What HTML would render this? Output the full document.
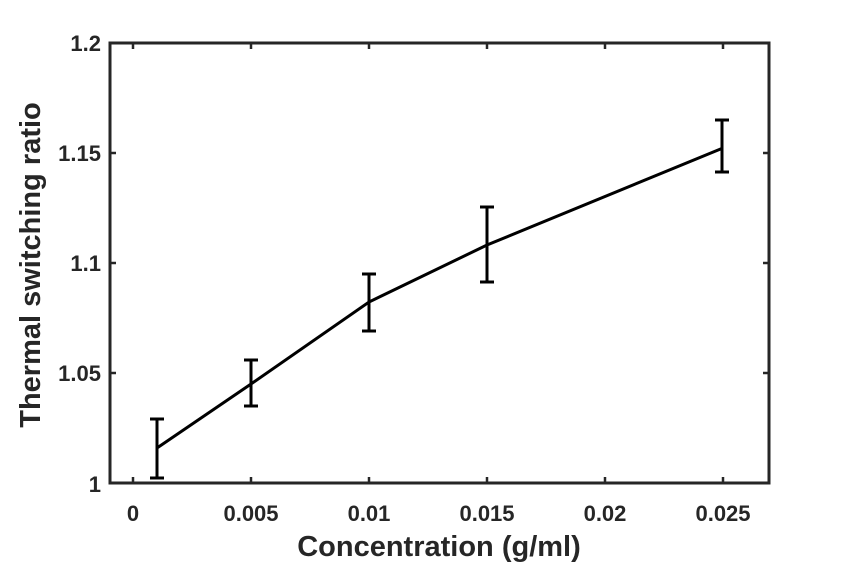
<!DOCTYPE html>
<html><head><style>body{margin:0;background:#fff}</style></head><body>
<svg width="850" height="563" xmlns="http://www.w3.org/2000/svg" font-family="Liberation Sans, Arial, sans-serif" font-weight="bold">
<rect width="850" height="563" fill="#fff"/>
<g stroke="#262626" stroke-width="3" fill="none">
<rect x="110" y="43" width="659" height="440"/>
</g>
<g stroke="#262626" stroke-width="2.5">
<line x1="133" y1="483" x2="133" y2="477"/><line x1="251" y1="483" x2="251" y2="477"/><line x1="369" y1="483" x2="369" y2="477"/><line x1="487" y1="483" x2="487" y2="477"/><line x1="605" y1="483" x2="605" y2="477"/><line x1="723" y1="483" x2="723" y2="477"/>
<line x1="133" y1="43" x2="133" y2="49"/><line x1="251" y1="43" x2="251" y2="49"/><line x1="369" y1="43" x2="369" y2="49"/><line x1="487" y1="43" x2="487" y2="49"/><line x1="605" y1="43" x2="605" y2="49"/><line x1="723" y1="43" x2="723" y2="49"/>
<line x1="110" y1="153" x2="116" y2="153"/><line x1="110" y1="263" x2="116" y2="263"/><line x1="110" y1="373" x2="116" y2="373"/>
<line x1="769" y1="153" x2="763" y2="153"/><line x1="769" y1="263" x2="763" y2="263"/><line x1="769" y1="373" x2="763" y2="373"/>
</g>
<g font-size="22" fill="#262626" text-anchor="end">
<text x="101" y="51">1.2</text><text x="101" y="161">1.15</text><text x="101" y="271">1.1</text><text x="101" y="381">1.05</text><text x="101" y="492">1</text>
</g>
<g font-size="22" fill="#262626" text-anchor="middle">
<text x="133" y="521">0</text><text x="251" y="521">0.005</text><text x="369" y="521">0.01</text><text x="487" y="521">0.015</text><text x="605" y="521">0.02</text><text x="723" y="521">0.025</text>
</g>
<text x="439" y="556" font-size="29" fill="#262626" text-anchor="middle">Concentration (g/ml)</text>
<text transform="translate(40,265) rotate(-90)" font-size="29" fill="#262626" text-anchor="middle">Thermal switching ratio</text>
<polyline fill="none" stroke="#000" stroke-width="3" points="157,448 251,384 369,302 487,245 723,148"/>
<g stroke="#000" stroke-width="3">
<line x1="157" y1="419" x2="157" y2="478"/><line x1="150" y1="419" x2="164" y2="419"/><line x1="150" y1="478" x2="164" y2="478"/>
<line x1="251" y1="360" x2="251" y2="406"/><line x1="244" y1="360" x2="258" y2="360"/><line x1="244" y1="406" x2="258" y2="406"/>
<line x1="369" y1="274" x2="369" y2="331"/><line x1="362" y1="274" x2="376" y2="274"/><line x1="362" y1="331" x2="376" y2="331"/>
<line x1="487" y1="207" x2="487" y2="282"/><line x1="480" y1="207" x2="494" y2="207"/><line x1="480" y1="282" x2="494" y2="282"/>
<line x1="722" y1="120" x2="722" y2="172"/><line x1="715" y1="120" x2="729" y2="120"/><line x1="715" y1="172" x2="729" y2="172"/>
</g>
</svg>
</body></html>
